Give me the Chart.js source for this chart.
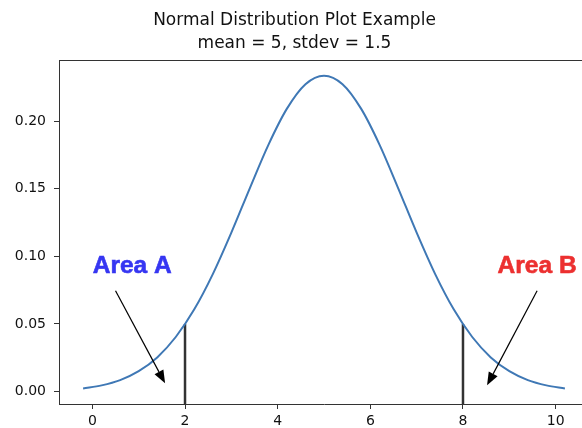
<!DOCTYPE html>
<html>
<head>
<meta charset="utf-8">
<script src="https://cdn.jsdelivr.net/npm/chart.js@4.4.1/dist/chart.umd.min.js"></script>
<style>
  html, body { margin: 0; padding: 0; background: #fff; overflow: hidden; }
  #wrap { width: 600px; height: 428px; }
</style>
</head>
<body>
<div id="wrap"><canvas id="chart" width="600" height="428"></canvas></div>
<script>
// Curva (x, densidad)
const curveX = [-0.2, 0.2, 0.6, 1.0, 1.4, 1.8, 2.2, 2.6, 3.0, 3.4, 3.8, 4.2, 4.6, 5.0,
                5.4, 5.8, 6.2, 6.6, 7.0, 7.4, 7.8, 8.2, 8.6, 9.0, 9.4, 9.8, 10.2];
const curveY = [0.0022, 0.0045, 0.0084, 0.0150, 0.0252, 0.0403, 0.0608, 0.0869, 0.1176, 0.1506, 0.1826, 0.2094, 0.2275, 0.2338,
                0.2275, 0.2094, 0.1826, 0.1506, 0.1176, 0.0869, 0.0608, 0.0403, 0.0252, 0.0150, 0.0084, 0.0045, 0.0022];

// Líneas verticales de corte
const cutX   = [2, 8];
const cutTop = 0.05;

// Ejes
const xTicks = [0, 2, 4, 6, 8, 10];
const yTicks = [0.00, 0.05, 0.10, 0.15, 0.20];
const xRange = [-0.72, 10.72];
const yRange = [-0.0093, 0.2454];

// Anotaciones: texto, color, posición del texto y punta de la flecha (en datos)
const notes = [
  { text: 'Area A', color: '#3636f2', tx: 0.86, ty: 0.093, fromX: 0.5, fromY: 0.0745, toX: 1.57, toY: 0.006 },
  { text: 'Area B', color: '#ec3030', tx: 9.6,  ty: 0.093, fromX: 9.6, fromY: 0.0745, toX: 8.52, toY: 0.0045 }
];

const datasets = [{
  data: curveX.map((x, i) => ({ x, y: curveY[i] })),
  borderColor: '#3f78b5',
  borderWidth: 2,
  pointRadius: 0,
  tension: 0.4,
  cubicInterpolationMode: 'monotone'
}];
cutX.forEach(x => {
  datasets.push({
    data: [{ x, y: yRange[0] }, { x, y: cutTop }],
    borderColor: '#333',
    borderWidth: 2.5,
    pointRadius: 0
  });
});

// Marco superior + anotaciones con flecha
const extras = {
  id: 'extras',
  afterDatasetsDraw(chart) {
    const { ctx, chartArea, scales } = chart;
    const sx = scales.x, sy = scales.y;
    ctx.save();
    ctx.strokeStyle = '#333';
    ctx.lineWidth = 1;
    ctx.beginPath();
    ctx.moveTo(chartArea.left, chartArea.top + 0.5);
    ctx.lineTo(chartArea.right, chartArea.top + 0.5);
    ctx.moveTo(chartArea.right - 0.5, chartArea.top);
    ctx.lineTo(chartArea.right - 0.5, chartArea.bottom);
    ctx.stroke();

    notes.forEach(n => {
      ctx.font = 'bold 24.5px "Liberation Sans", Arial, sans-serif';
      ctx.fillStyle = n.color;
      ctx.textAlign = 'center';
      ctx.textBaseline = 'middle';
      ctx.fillText(n.text, sx.getPixelForValue(n.tx), sy.getPixelForValue(n.ty));
      ctx.strokeStyle = n.color;
      ctx.lineWidth = 0.6;
      ctx.strokeText(n.text, sx.getPixelForValue(n.tx), sy.getPixelForValue(n.ty));

      const x1 = sx.getPixelForValue(n.fromX), y1 = sy.getPixelForValue(n.fromY);
      const x2 = sx.getPixelForValue(n.toX),   y2 = sy.getPixelForValue(n.toY);
      const ang = Math.atan2(y2 - y1, x2 - x1);
      const hl = 13, hw = 5;
      const bx = x2 - hl * Math.cos(ang), by = y2 - hl * Math.sin(ang);
      ctx.strokeStyle = '#000';
      ctx.lineWidth = 1.2;
      ctx.beginPath();
      ctx.moveTo(x1, y1);
      ctx.lineTo(bx, by);
      ctx.stroke();
      ctx.fillStyle = '#000';
      ctx.beginPath();
      ctx.moveTo(x2, y2);
      ctx.lineTo(bx + hw * Math.sin(ang), by - hw * Math.cos(ang));
      ctx.lineTo(bx - hw * Math.sin(ang), by + hw * Math.cos(ang));
      ctx.closePath();
      ctx.fill();
    });
    ctx.restore();
  }
};

const tickFont = { family: '"DejaVu Sans", sans-serif', size: 14 };

new Chart(document.getElementById('chart'), {
  type: 'line',
  data: { datasets },
  plugins: [extras],
  options: {
    responsive: false,
    animation: false,
    layout: { padding: { left: 0, right: 11, top: 0, bottom: 0 } },
    plugins: {
      legend: { display: false },
      tooltip: { enabled: false },
      title: {
        display: true,
        text: ['Normal Distribution Plot Example', 'mean = 5, stdev = 1.5'],
        color: '#111',
        font: { family: '"DejaVu Sans", sans-serif', size: 17, weight: 'normal', lineHeight: 1.353 },
        padding: { top: 9.5, bottom: 4.5 }
      }
    },
    scales: {
      x: {
        type: 'linear',
        min: xRange[0],
        max: xRange[1],
        afterBuildTicks: s => { s.ticks = xTicks.map(v => ({ value: v })); },
        afterFit: s => { s.height = 24; },
        grid: { drawOnChartArea: false, drawTicks: true, tickLength: 5, color: '#333' },
        border: { display: true, color: '#333', width: 1 },
        ticks: { font: tickFont, color: '#111', padding: 4, maxRotation: 0, callback: v => String(v) }
      },
      y: {
        type: 'linear',
        min: yRange[0],
        max: yRange[1],
        afterBuildTicks: s => { s.ticks = yTicks.map(v => ({ value: v })); },
        afterFit: s => { s.width = 59; },
        grid: { drawOnChartArea: false, drawTicks: true, tickLength: 5, color: '#333' },
        border: { display: true, color: '#333', width: 1 },
        ticks: { font: tickFont, color: '#111', padding: 8, callback: v => v.toFixed(2) }
      }
    }
  }
});
</script>
</body>
</html>
